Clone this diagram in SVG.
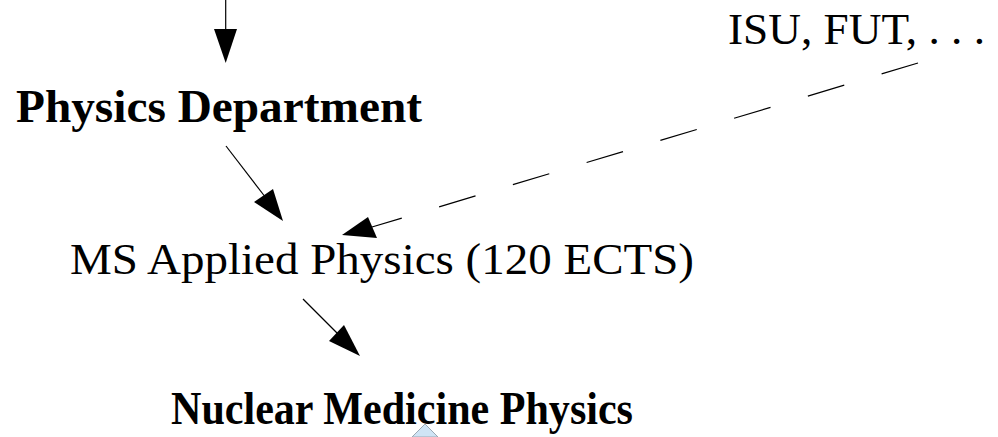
<svg xmlns="http://www.w3.org/2000/svg" width="998" height="437" viewBox="0 0 998 437">
<style>
.t{font-family:"Liberation Serif","Times New Roman",serif;font-size:45px;fill:#000}
.b{font-weight:bold;font-size:47px}
.ln{stroke:#000;stroke-width:1.2;fill:none}
.ah{fill:#000;stroke:none}
</style>
<rect width="998" height="437" fill="#fff"/>
<g id="connectors">
<line class="ln" x1="225.7" y1="0" x2="225.7" y2="31"/>
<polygon class="ah" points="214,29 237,29 225.7,63"/>
<line class="ln" x1="226" y1="146" x2="266" y2="198"/>
<polygon class="ah" points="254,202 273,189 283,221"/>
<line class="ln" x1="918" y1="63" x2="372" y2="227" stroke-dasharray="38,39"/>
<polygon class="ah" points="368,217 377,238 342,235"/>
<line class="ln" x1="303" y1="299" x2="338" y2="334"/>
<polygon class="ah" points="329,341 344,325 360,356"/>
</g>
<g id="isu"><text class="t" x="728" y="44" textLength="257" lengthAdjust="spacingAndGlyphs">ISU, FUT, . . .</text></g>
<g id="physics-department"><text class="t b" x="16" y="122" textLength="406" lengthAdjust="spacingAndGlyphs">Physics Department</text></g>
<g id="ms-applied-physics"><text class="t" x="70" y="274" textLength="624" lengthAdjust="spacingAndGlyphs">MS Applied Physics (120 ECTS)</text></g>
<g id="nuclear-medicine-physics"><text class="t b" x="171" y="424" textLength="462" lengthAdjust="spacingAndGlyphs">Nuclear Medicine Physics</text></g>
<g id="marker"><polygon points="425,424 412,437 438,437" fill="#cfe4f5" stroke="#9aa8b4" stroke-width="1"/></g>
</svg>
